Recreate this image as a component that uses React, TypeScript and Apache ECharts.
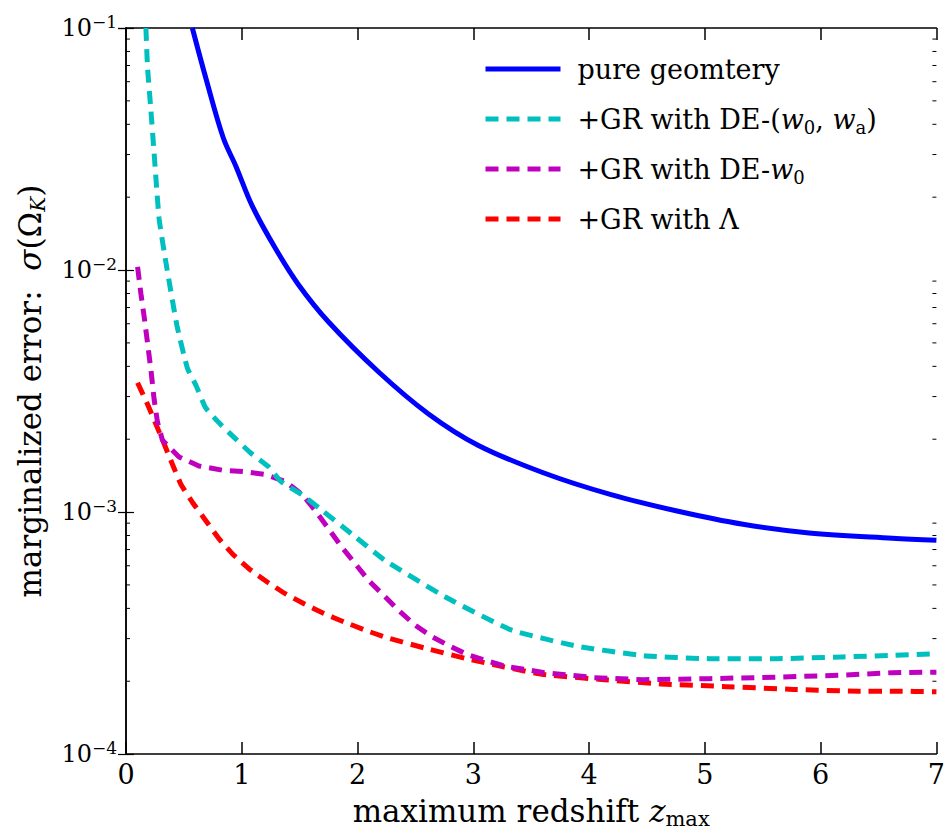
import React, { useEffect, useRef } from "react";
import * as echarts from "echarts";

const seriesNames = [
  "pure geomtery",
  "+GR with DE-(w0, wa)",
  "+GR with DE-w0",
  "+GR with Lambda",
];

const legendRich: Record<string, string> = {
  "pure geomtery": "pure geomtery",
  "+GR with DE-(w0, wa)": "+GR with DE-({i|w}{s|0}, {i|w}{s|a})",
  "+GR with DE-w0": "+GR with DE-{i|w}{s|0}",
  "+GR with Lambda": "+GR with Λ",
};

const seriesColors = ["#0000ff", "#00bfbf", "#bf00bf", "#ff0000"];

const pureGeometry: [number, number][] = [
  [0.573, 0.1], [0.69, 0.062], [0.84, 0.0352], [0.95, 0.0268], [1.09, 0.0184],
  [1.29, 0.0123], [1.49, 0.0087], [1.75, 0.0061], [2.18, 0.0038], [2.61, 0.00255],
  [3.04, 0.00189], [3.61, 0.00145], [4.19, 0.00118], [4.76, 0.00101], [5.33, 0.00089],
  [5.9, 0.00082], [6.62, 0.00078], [7.0, 0.000765],
];

const grDEw0wa: [number, number][] = [
  [0.172, 0.1], [0.186, 0.0687], [0.215, 0.0458], [0.243, 0.0303], [0.286, 0.0163],
  [0.344, 0.0108], [0.44, 0.0059], [0.53, 0.00394], [0.607, 0.00332], [0.687, 0.0027],
  [0.81, 0.00232], [0.945, 0.00201], [1.08, 0.00175], [1.231, 0.00154], [1.337, 0.00134],
  [1.52, 0.00118], [1.667, 0.00104], [1.953, 0.00081], [2.24, 0.00063], [2.755, 0.000447],
  [3.326, 0.000326], [3.9, 0.000279], [4.473, 0.000255], [5.04, 0.000248], [5.62, 0.000248],
  [6.19, 0.000252], [6.62, 0.000256], [7.0, 0.00026],
];

const grDEw0: [number, number][] = [
  [0.1, 0.0103], [0.129, 0.00797], [0.157, 0.00641], [0.186, 0.00499], [0.215, 0.00388],
  [0.243, 0.00292], [0.272, 0.00235], [0.315, 0.00198], [0.458, 0.00169], [0.63, 0.00155],
  [0.83, 0.00149], [1.017, 0.00147], [1.2, 0.00143], [1.375, 0.00134], [1.523, 0.00118],
  [1.638, 0.00101], [1.753, 0.000848], [1.867, 0.000713], [1.982, 0.00061], [2.096, 0.000521],
  [2.24, 0.000446], [2.354, 0.000393], [2.497, 0.000341], [2.64, 0.000306], [2.798, 0.000279],
  [2.955, 0.000257], [3.127, 0.000242], [3.27, 0.000231], [3.614, 0.000217], [4.044, 0.000207],
  [4.47, 0.000203], [5.04, 0.000205], [5.62, 0.000208], [6.19, 0.000212], [6.62, 0.000217],
  [7.0, 0.000218],
];

const grLambda: [number, number][] = [
  [0.1, 0.00342], [0.186, 0.00279], [0.258, 0.00231], [0.33, 0.00191], [0.4, 0.00158],
  [0.475, 0.0013], [0.578, 0.00109], [0.693, 0.000917], [0.808, 0.000771], [0.922, 0.00067],
  [1.065, 0.000582], [1.223, 0.000513], [1.38, 0.000459], [1.538, 0.000418], [1.71, 0.000381],
  [1.881, 0.000352], [2.068, 0.000325], [2.24, 0.000304], [2.583, 0.000274], [2.927, 0.000249],
  [3.27, 0.000229], [3.614, 0.000213], [4.13, 0.000203], [4.616, 0.000195], [5.19, 0.00019],
  [5.762, 0.000185], [6.33, 0.000182], [6.62, 0.000182], [7.0, 0.000181],
];

const xTicks = { min: 0, max: 7, interval: 1 };
const yRange = { min: 1e-4, max: 1e-1 };
const minorDecades = [1e-4, 1e-3, 1e-2];
const minorMultipliers = [2, 3, 4, 5, 6, 7, 8, 9];

const FONT = "DejaVu Serif";
const DASH = [13, 8];

export default function App() {
  const ref = useRef<HTMLDivElement>(null);

  useEffect(() => {
    if (!ref.current) return;
    const chart = echarts.init(ref.current, undefined, { renderer: "svg" });

    const minorTickData: [number, number][] = [];
    minorDecades.forEach((d) =>
      minorMultipliers.forEach((m) => minorTickData.push([0, m * d]))
    );

    const allData = [pureGeometry, grDEw0wa, grDEw0, grLambda];
    const smoothing = [0.35, 0.15, 0, 0.1];

    const lineSeries = seriesNames.map((name, i) => ({
      name,
      type: "line",
      data: allData[i],
      symbol: "none",
      showSymbol: false,
      smooth: smoothing[i],
      clip: true,
      z: 10 - i,
      lineStyle: {
        color: seriesColors[i],
        width: 5,
        type: i === 0 ? "solid" : DASH,
        cap: "butt",
      },
      itemStyle: { color: seriesColors[i] },
    }));

    const axisLineStyle = { lineStyle: { color: "#000", width: 1.5 } };

    const option: any = {
      animation: false,
      backgroundColor: "#fff",
      textStyle: { fontFamily: FONT },
      grid: { left: 126, right: 7, top: 28, bottom: 72, containLabel: false },
      legend: {
        orient: "vertical",
        left: 478,
        top: 47,
        itemWidth: 75,
        itemHeight: 10,
        itemGap: 16,
        itemStyle: { opacity: 0 },
        data: seriesNames.map((n, i) => ({
          name: n,
          itemStyle: { opacity: 0 },
          lineStyle: {
            color: seriesColors[i],
            width: 5,
            type: i === 0 ? "solid" : DASH,
            cap: "butt",
            opacity: 1,
          },
        })),
        formatter: (n: string) => legendRich[n] || n,
        textStyle: {
          fontFamily: FONT,
          fontSize: 27,
          lineHeight: 34,
          color: "#000",
          padding: [0, 0, 0, 12],
          rich: {
            i: { fontFamily: FONT, fontStyle: "italic", fontSize: 27, lineHeight: 34, color: "#000" },
            s: { fontFamily: FONT, fontStyle: "normal", fontSize: 18, lineHeight: 20, verticalAlign: "bottom", color: "#000" },
          },
        },
      },
      xAxis: [
        {
          type: "value",
          min: xTicks.min,
          max: xTicks.max,
          interval: xTicks.interval,
          position: "bottom",
          axisLine: { show: true, ...axisLineStyle },
          axisTick: { show: true, inside: true, length: 12, lineStyle: { color: "#000", width: 1.5 } },
          axisLabel: { fontFamily: FONT, fontSize: 27, color: "#000", margin: 7 },
          splitLine: { show: false },
          name: "maximum redshift {i|z}{sub|max}",
          nameLocation: "middle",
          nameGap: 38,
          nameTextStyle: {
            fontFamily: FONT,
            fontSize: 31,
            lineHeight: 36,
            color: "#000",
            rich: {
              i: { fontFamily: FONT, fontStyle: "italic", fontSize: 31, lineHeight: 36, color: "#000" },
              sub: { fontFamily: FONT, fontSize: 21, lineHeight: 22, verticalAlign: "bottom", color: "#000" },
            },
          },
        },
        {
          type: "value",
          min: xTicks.min,
          max: xTicks.max,
          interval: xTicks.interval,
          position: "top",
          axisLine: { show: true, ...axisLineStyle },
          axisTick: { show: true, inside: true, length: 12, lineStyle: { color: "#000", width: 1.5 } },
          axisLabel: { show: false },
          splitLine: { show: false },
        },
      ],
      yAxis: [
        {
          type: "log",
          logBase: 10,
          min: yRange.min,
          max: yRange.max,
          position: "left",
          axisLine: { show: true, ...axisLineStyle },
          axisTick: { show: true, inside: true, length: 8, lineStyle: { color: "#000", width: 1.2 } },
          splitLine: { show: false },
          axisLabel: {
            margin: 9,
            color: "#000",
            formatter: (v: number) => {
              const e = Math.round(Math.log10(v));
              return `{b|10}{s|−${-e}}`;
            },
            rich: {
              b: { fontFamily: FONT, fontSize: 24, lineHeight: 30, color: "#000" },
              s: { fontFamily: FONT, fontSize: 17, lineHeight: 18, verticalAlign: "top", color: "#000" },
            },
          },
          name: "marginalized error:  {i|σ}(Ω{sub|K})",
          nameLocation: "middle",
          nameGap: 78,
          nameRotate: 90,
          nameTextStyle: {
            fontFamily: FONT,
            fontSize: 31,
            lineHeight: 36,
            color: "#000",
            rich: {
              i: { fontFamily: FONT, fontStyle: "italic", fontSize: 31, lineHeight: 36, color: "#000" },
              sub: { fontFamily: FONT, fontStyle: "italic", fontSize: 20, lineHeight: 22, verticalAlign: "bottom", color: "#000" },
            },
          },
        },
        {
          type: "log",
          logBase: 10,
          min: yRange.min,
          max: yRange.max,
          position: "right",
          axisLine: { show: true, ...axisLineStyle },
          axisTick: { show: true, inside: true, length: 8, lineStyle: { color: "#000", width: 1.2 } },
          axisLabel: { show: false },
          splitLine: { show: false },
        },
      ],
      series: [
        ...lineSeries,
        {
          name: "minorTicks",
          type: "custom",
          data: minorTickData,
          silent: true,
          z: 1,
          renderItem: (params: any, api: any) => {
            const v = api.value(1);
            const pl = api.coord([xTicks.min, v]);
            const pr = api.coord([xTicks.max, v]);
            return {
              type: "group",
              children: [
                { type: "line", shape: { x1: pl[0], y1: pl[1], x2: pl[0] + 4, y2: pl[1] }, style: { stroke: "#000", lineWidth: 1 } },
                { type: "line", shape: { x1: pr[0] - 4, y1: pr[1], x2: pr[0], y2: pr[1] }, style: { stroke: "#000", lineWidth: 1 } },
              ],
            };
          },
        },
      ],
    };

    chart.setOption(option);
    return () => chart.dispose();
  }, []);

  return (
    <div
      ref={ref}
      style={{ position: "fixed", left: 0, top: 0, width: 948, height: 834 }}
    />
  );
}
